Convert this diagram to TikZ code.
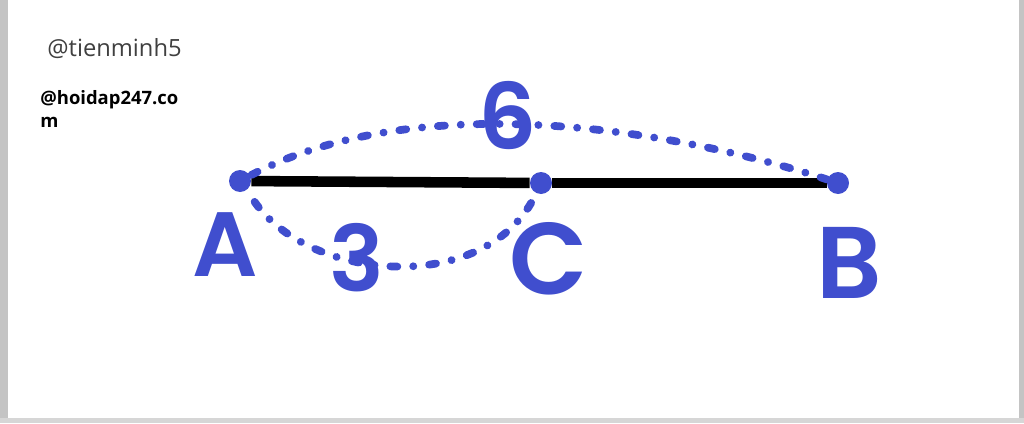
\documentclass[tikz,border=0pt]{standalone}
\usepackage{fontspec}
\setmainfont{Open Sans}
\newfontfamily\handfont{Poppins}[BoldFont=* SemiBold]
\definecolor{penblue}{RGB}{64,78,206}
\definecolor{framegray}{RGB}{196,196,196}
\begin{document}
\begin{tikzpicture}
            [x=0.02cm, y=-0.02cm,
            % points and pen strokes
            point/.style={circle, fill=penblue, inner sep=0pt, minimum size=0.44cm},
            penlabel/.style={text=penblue, font=\handfont\bfseries\fontsize{52}{52}\selectfont, inner sep=0pt},
            biglabel/.style={penlabel, font=\handfont\bfseries\fontsize{58}{58}\selectfont},
            dotarc/.style={draw=penblue, line width=4.4pt, line cap=round, dash pattern=on 4pt off 9pt on 0.1pt off 9pt},
            segment/.style={draw=black, line width=6pt},
            signature/.style={anchor=west, inner sep=0pt}]
            \useasboundingbox (0,0) rectangle (1024,423);
            % screenshot frame
            \fill[framegray] (0,0) rectangle (8,423);
            \fill[framegray] (1019,0) rectangle (1024,423);
            \fill[framegray!70] (0,418) rectangle (1024,423);
            % watermark texts
            \node [signature, text=black!75, font=\fontsize{13.5}{16}\selectfont] (author) at (47,49) {@tienminh5};
            \node [signature, font=\fontsize{10.5}{13}\selectfont\bfseries, align=left, anchor=north west] (site) at (40,90) {@hoidap247.co\\m};
            % the segment
            \node [point] (ptA) at (240,181) {};
            \node [point] (ptC) at (541,183) {};
            \node [point] (ptB) at (838,183) {};
            \draw [segment] (ptA) -- (ptC);
            \draw [segment] (ptC) -- (ptB);
            % distance arcs
            \draw [dotarc] (ptB) to [out=162, in=28, looseness=0.8] (ptA);
            \draw [dotarc, shorten <=8pt] (ptA) to [out=-55, in=-115] (ptC);
            % handwritten labels
            \node [penlabel] (labA) at (225,245) {A};
            \node [biglabel] (labC) at (549,259) {C};
            \node [biglabel] (labB) at (849,263) {B};
            \node [penlabel] (len3) at (357,258) {3};
            \node [penlabel] (len6) at (508,116) {6};
            \end{tikzpicture}
\end{document}
